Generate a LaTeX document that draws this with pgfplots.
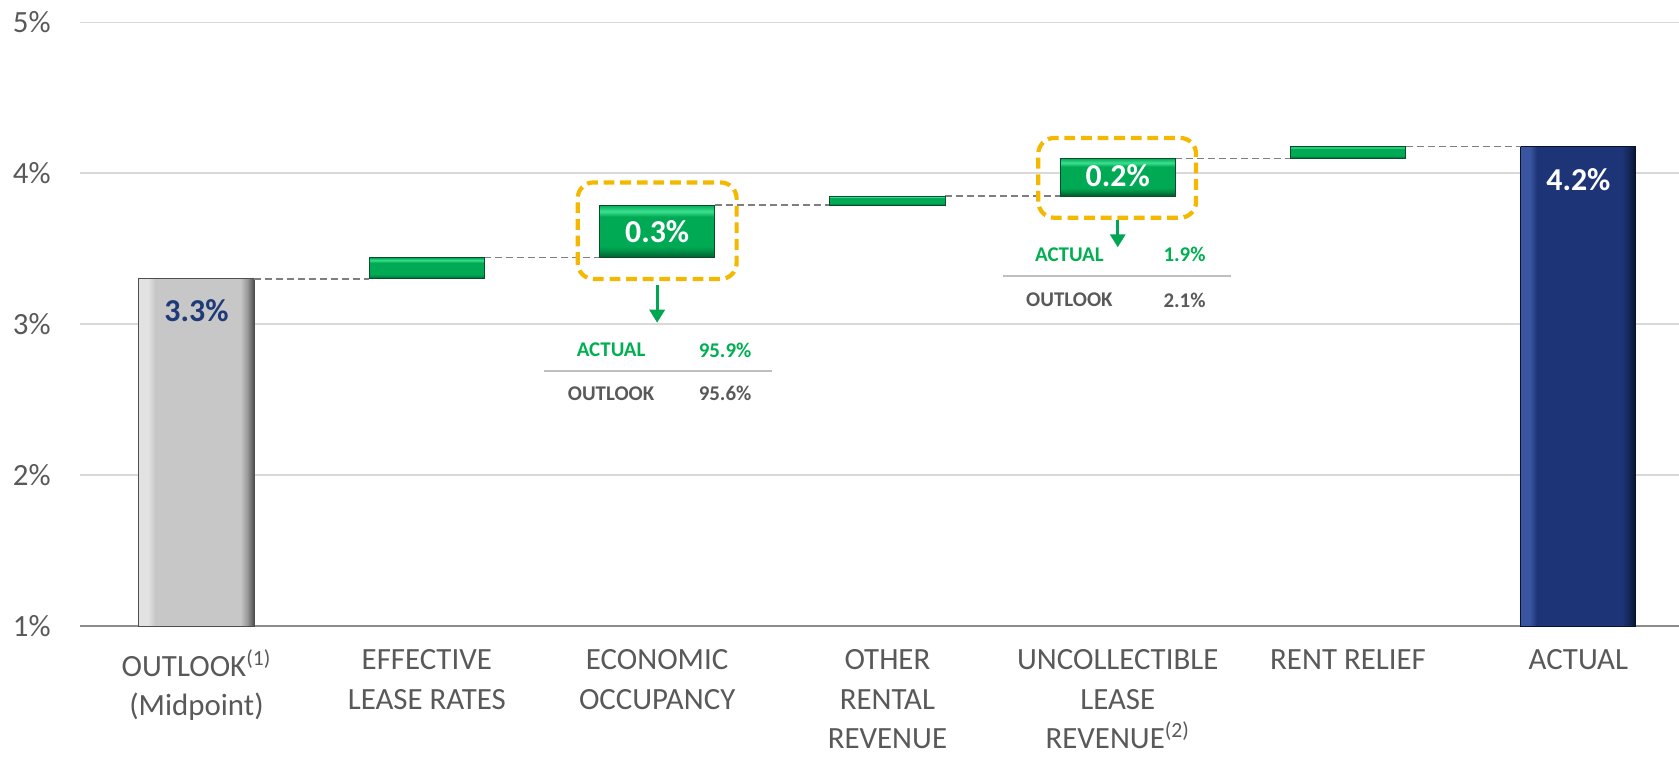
\documentclass[border=0pt]{standalone}
\usepackage{fontspec}
\setmainfont{Carlito}
\usepackage{pgfplots}
\pgfplotsset{compat=1.18}
\usetikzlibrary{arrows.meta}

\definecolor{labgray}{HTML}{595959}
\definecolor{gridgray}{HTML}{D9D9D9}
\definecolor{axisgray}{HTML}{8C8C8C}
\definecolor{conngray}{HTML}{7F7F7F}
\definecolor{rulegray}{HTML}{BFBFBF}
\definecolor{navy}{HTML}{1F3A78}
\definecolor{gold}{HTML}{F5B800}
\definecolor{gtext}{HTML}{00B050}
\definecolor{garrow}{HTML}{00A651}
% bevel colours
\definecolor{gbA}{HTML}{E2E2E2}
\definecolor{gbB}{HTML}{C6C7C6}
\definecolor{gbC}{HTML}{9A9A9A}
\definecolor{gbD}{HTML}{4E4E4E}
\definecolor{nbA}{HTML}{3A55A0}
\definecolor{nbB}{HTML}{1D3577}
\definecolor{nbC}{HTML}{142756}
\definecolor{nbD}{HTML}{08122E}
\definecolor{grA}{HTML}{005A2C}
\definecolor{grB}{HTML}{008C44}
\definecolor{grC}{HTML}{00AA55}
\definecolor{grD}{HTML}{3BE08F}
\definecolor{gredge}{HTML}{0A4D2A}

% the path is mapped onto 25bp..75bp of the shading
\pgfdeclarehorizontalshading{graybev}{100bp}{color(0bp)=(gbA); color(25bp)=(gbA); color(29bp)=(gbA); color(32bp)=(gbB); color(69bp)=(gbB); color(72bp)=(gbC); color(75bp)=(gbD); color(100bp)=(gbD)}
\pgfdeclarehorizontalshading{navybev}{100bp}{color(0bp)=(nbA); color(25bp)=(nbA); color(29bp)=(nbA); color(32bp)=(nbB); color(69bp)=(nbB); color(72bp)=(nbC); color(75bp)=(nbD); color(100bp)=(nbD)}
\pgfdeclareverticalshading{greenbev}{100bp}{color(0bp)=(grA); color(25bp)=(grA); color(31bp)=(grB); color(36bp)=(grC); color(64bp)=(grC); color(69bp)=(grD); color(75bp)=(grC); color(100bp)=(grC)}

\pgfplotsset{wf/.style={scale only axis, width=799.5bp, height=301.75bp,
  xmin=-0.506, xmax=6.437, ymin=1, ymax=5}}

% one floating green bar: category, base, change
\newcommand\wfstep[3]{%
\begin{axis}[wf, hide axis, ybar stacked, bar width=0.5]
\addplot[draw=none, fill=none] coordinates {(#1,#2)};
\addplot[draw=gredge, line width=0.5bp, shade, shading=greenbev] coordinates {(#1,#3)};
\end{axis}}

\begin{document}
\begin{tikzpicture}
\begin{axis}[wf, name=ax,
  axis x line*=bottom, axis y line*=left,
  x axis line style={-, draw=axisgray, line width=1bp},
  y axis line style={-, draw=none},
  ymajorgrids, grid style={draw=gridgray, line width=0.9bp},
  ytick={1,2,3,4,5}, yticklabels={1\%,2\%,3\%,4\%,5\%},
  xtick={0,...,6},
  xticklabels={
    {OUTLOOK\textsuperscript{(1)}\\(Midpoint)},
    {EFFECTIVE\\LEASE RATES},
    {ECONOMIC\\OCCUPANCY},
    {OTHER\\RENTAL\\REVENUE},
    {UNCOLLECTIBLE\\LEASE\\REVENUE\textsuperscript{(2)}},
    {RENT RELIEF},
    {ACTUAL}},
  major tick length=0pt, tick style={draw=none},
  yticklabel style={font=\fontsize{15.5}{18}\selectfont, text=labgray,
    inner sep=0pt, anchor=east, xshift=-14.5bp},
  xticklabel style={font=\fontsize{15.5}{19.7}\selectfont, text=labgray,
    inner sep=0pt, anchor=north, align=center, yshift=-11.7bp},
]
% start and end bars
\addplot[ybar, bar width=0.5, bar shift=0pt, draw=gbD, line width=0.5bp,
  shade, shading=graybev] coordinates {(0,3.30)};
\addplot[ybar, bar width=0.5, bar shift=0pt, draw=nbD, line width=0.5bp,
  shade, shading=navybev] coordinates {(6,4.18)};
% connectors
\addplot[conngray, line width=0.6bp, dash pattern=on 3.5bp off 2bp] coordinates {(0.25,3.30) (0.75,3.30)};
\addplot[conngray, line width=0.6bp, dash pattern=on 3.5bp off 2bp] coordinates {(1.25,3.44) (1.75,3.44)};
\addplot[conngray, line width=0.6bp, dash pattern=on 3.5bp off 2bp] coordinates {(2.25,3.79) (2.75,3.79)};
\addplot[conngray, line width=0.6bp, dash pattern=on 3.5bp off 2bp] coordinates {(3.25,3.85) (3.75,3.85)};
\addplot[conngray, line width=0.6bp, dash pattern=on 3.5bp off 2bp] coordinates {(4.25,4.10) (4.75,4.10)};
\addplot[conngray, line width=0.6bp, dash pattern=on 3.5bp off 2bp] coordinates {(5.25,4.18) (5.75,4.18)};
\node[font=\bfseries\fontsize{16}{19}\selectfont, text=navy] at (axis cs:0,3.09) {3.3\%};
\node[font=\bfseries\fontsize{16}{19}\selectfont, text=white] at (axis cs:6,3.96) {4.2\%};
\end{axis}

% floating changes
\wfstep{1}{3.30}{0.14}
\wfstep{2}{3.44}{0.35}
\wfstep{3}{3.79}{0.06}
\wfstep{4}{3.85}{0.25}
\wfstep{5}{4.10}{0.08}

% annotations
\begin{axis}[wf, hide axis]
\addplot[draw=none] coordinates {(0,1)};
\node[font=\bfseries\fontsize{16}{19}\selectfont, text=white] at (axis cs:2,3.615) {0.3\%};
\node[font=\bfseries\fontsize{16}{19}\selectfont, text=white] at (axis cs:4,3.985) {0.2\%};
% highlight boxes
\draw[gold, line width=2.1bp, dash pattern=on 5.4bp off 2.9bp, rounded corners=8bp]
  (axis cs:1.655,3.30) rectangle (axis cs:2.345,3.94);
\draw[gold, line width=2.1bp, dash pattern=on 5.4bp off 2.9bp, rounded corners=8bp]
  (axis cs:3.655,3.706) rectangle (axis cs:4.34,4.235);
% arrows
\draw[garrow, line width=1.6bp, -{Triangle[width=7.5bp,length=6.5bp]}]
  (axis cs:2,3.26) -- (axis cs:2,3.01);
\draw[garrow, line width=1.6bp, -{Triangle[width=7.5bp,length=6.5bp]}]
  (axis cs:4,3.69) -- (axis cs:4,3.51);
% small tables
\draw[rulegray, line width=0.8bp] (axis cs:1.509,2.69) -- (axis cs:2.50,2.69);
\node[font=\bfseries\fontsize{10.5}{12}\selectfont, text=gtext] at (axis cs:1.80,2.83) {ACTUAL};
\node[font=\bfseries\fontsize{10.5}{12}\selectfont, text=gtext] at (axis cs:2.295,2.83) {95.9\%};
\node[font=\bfseries\fontsize{10.5}{12}\selectfont, text=labgray] at (axis cs:1.80,2.54) {OUTLOOK};
\node[font=\bfseries\fontsize{10.5}{12}\selectfont, text=labgray] at (axis cs:2.295,2.54) {95.6\%};
\draw[rulegray, line width=0.8bp] (axis cs:3.50,3.32) -- (axis cs:4.49,3.32);
\node[font=\bfseries\fontsize{10.5}{12}\selectfont, text=gtext] at (axis cs:3.79,3.46) {ACTUAL};
\node[font=\bfseries\fontsize{10.5}{12}\selectfont, text=gtext] at (axis cs:4.29,3.46) {1.9\%};
\node[font=\bfseries\fontsize{10.5}{12}\selectfont, text=labgray] at (axis cs:3.79,3.16) {OUTLOOK};
\node[font=\bfseries\fontsize{10.5}{12}\selectfont, text=labgray] at (axis cs:4.29,3.16) {2.1\%};
\end{axis}

\pgfresetboundingbox
\path[use as bounding box] ([xshift=-40bp,yshift=-65.5bp]ax.south west) rectangle ([yshift=11.25bp]ax.north east);
\end{tikzpicture}
\end{document}
